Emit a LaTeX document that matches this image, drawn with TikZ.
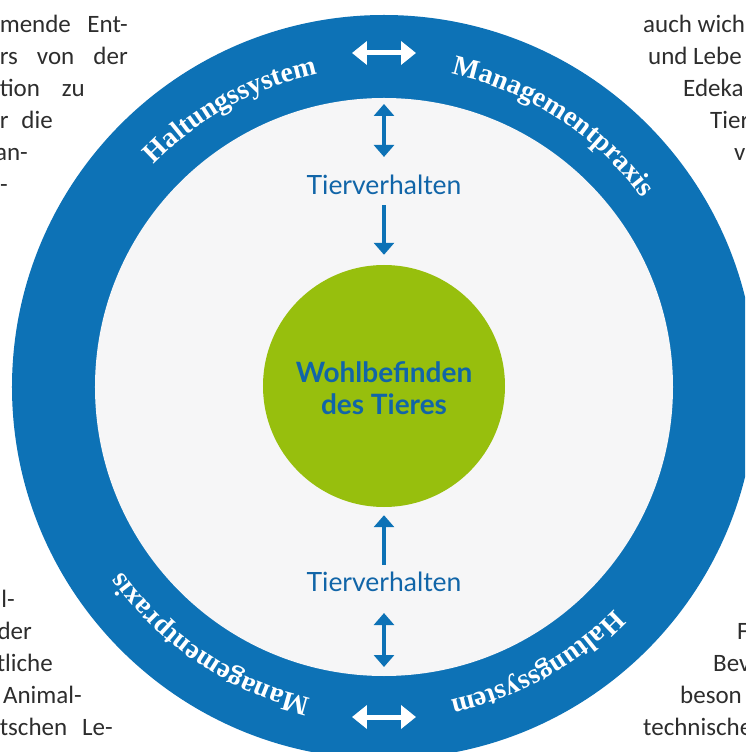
\documentclass[tikz,border=0pt]{standalone}
\usepackage{fontspec}
\usetikzlibrary{arrows.meta,decorations.text}
\newfontfamily\ringfont{Liberation Serif}
\newfontfamily\labelfont{Lato}
\newfontfamily\pagefont{Carlito}
\definecolor{ringblue}{RGB}{13,114,182}
\definecolor{textblue}{RGB}{17,101,168}
\definecolor{innergray}{RGB}{246,246,247}
\definecolor{leafgreen}{RGB}{151,191,13}
\definecolor{pagegray}{RGB}{45,45,45}
\tikzset{
  blarrow/.style={draw=ringblue, line width=4.5pt, -{Triangle[width=20pt,length=12pt]}},
  bldouble/.style={draw=ringblue, line width=4.5pt, {Triangle[width=20pt,length=12pt]}-{Triangle[width=20pt,length=12pt]}},
  whdouble/.style={draw=white, line width=5pt, {Triangle[width=23pt,length=15pt]}-{Triangle[width=23pt,length=15pt]}},
  ringlabel/.style={decorate, decoration={text along path, text align=center,
    text={|\ringfont\bfseries\fontsize{28}{28}\selectfont\color{white}|#1}}},
  behaviour/.style={text=textblue, font=\labelfont\fontsize{26.5}{26.5}\selectfont, inner sep=0pt},
  pagetext/.style={text=pagegray, font=\pagefont\fontsize{25}{25}\selectfont, inner sep=0pt},
}
\begin{document}
\begin{tikzpicture}[x=1pt,y=1pt]
  \useasboundingbox (-384,-365) rectangle (361,387);
  \clip (-384,-365) rectangle (361,387);
  % ring and inner field
  \fill[ringblue] (0,0) circle (372);
  \fill[innergray] (0,0) circle (289);
  \coordinate (intop) at (0,289);
  \coordinate (inbot) at (0,-289);
  % centre
  \node[circle, fill=leafgreen, minimum size=242pt, inner sep=0pt] (wohl) at (0,1) {};
  \node[text=textblue, font=\labelfont\bfseries\fontsize{28}{32}\selectfont, align=center,
    inner sep=0pt] (wohltext) at (0,-1) {Wohlbefinden\\des Tieres};
  \node[behaviour] (tvtop) at (0,202) {Tierverhalten};
  \node[behaviour] (tvbot) at (0,-195) {Tierverhalten};
  % blue arrows
  \draw[bldouble, shorten <=6pt, shorten >=18pt] (intop) -- (tvtop.north);
  \draw[blarrow, shorten <=10pt, shorten >=10pt] (tvtop.south) -- (wohl.north);
  \draw[blarrow, shorten <=7pt, shorten >=8pt] (tvbot.north) -- (wohl.south);
  \draw[bldouble, shorten <=21pt, shorten >=9pt] (tvbot.south) -- (inbot);
  % white arrows in the ring
  \coordinate (wtl) at (-32,334);
  \coordinate (wtr) at (32,334);
  \coordinate (wbl) at (-32,-330);
  \coordinate (wbr) at (32,-330);
  \draw[whdouble] (wtl) -- (wtr);
  \draw[whdouble] (wbl) -- (wbr);
  % ring labels
  \path[ringlabel={Haltungssystem}] (159:320) arc[start angle=159, end angle=79, radius=320];
  \path[ringlabel={Managementpraxis}] (97:320) arc[start angle=97, end angle=17, radius=320];
  \path[ringlabel={Haltungssystem}] (339:320) arc[start angle=339, end angle=259, radius=320];
  \path[ringlabel={Managementpraxis}] (276:320) arc[start angle=276, end angle=196, radius=320];
  % page text round the figure
  \node[pagetext, anchor=base east] (lt1) at (-256,354) {\hbox to 128pt{mende\hfill Ent-}};
  \node[pagetext, anchor=base east] (lt2) at (-256,322) {\hbox to 128pt{rs\hfill von\hfill der}};
  \node[pagetext, anchor=base east] (lt3) at (-299,290) {\hbox to 85pt{tion\hfill zu}};
  \node[pagetext, anchor=base east] (lt4) at (-331,258) {\hbox to 53pt{r\hfill die}};
  \node[pagetext, anchor=base east] (lt5) at (-356,226) {an-};
  \node[pagetext, anchor=base east] (lt6) at (-376,194) {-};
  \node[pagetext, anchor=base west] (rt1) at (259,354) {auch wich};
  \node[pagetext, anchor=base west] (rt2) at (264,322) {und Lebe};
  \node[pagetext, anchor=base west] (rt3) at (299,290) {Edeka};
  \node[pagetext, anchor=base west] (rt4) at (326,258) {Tier};
  \node[pagetext, anchor=base west] (rt5) at (350,226) {v};
  \node[pagetext, anchor=base east] (lb1) at (-369,-220) {l-};
  \node[pagetext, anchor=base east] (lb2) at (-352,-252) {der};
  \node[pagetext, anchor=base east] (lb3) at (-331,-284) {tliche};
  \node[pagetext, anchor=base east] (lb4) at (-302,-316) {Animal-};
  \node[pagetext, anchor=base east] (lb5) at (-271,-348) {\hbox to 113pt{tschen\hfill Le-}};
  \node[pagetext, anchor=base west] (rb1) at (353,-252) {F};
  \node[pagetext, anchor=base west] (rb2) at (329,-284) {Bev};
  \node[pagetext, anchor=base west] (rb3) at (296,-316) {beson};
  \node[pagetext, anchor=base west] (rb4) at (259,-348) {technische};
\end{tikzpicture}
\end{document}
